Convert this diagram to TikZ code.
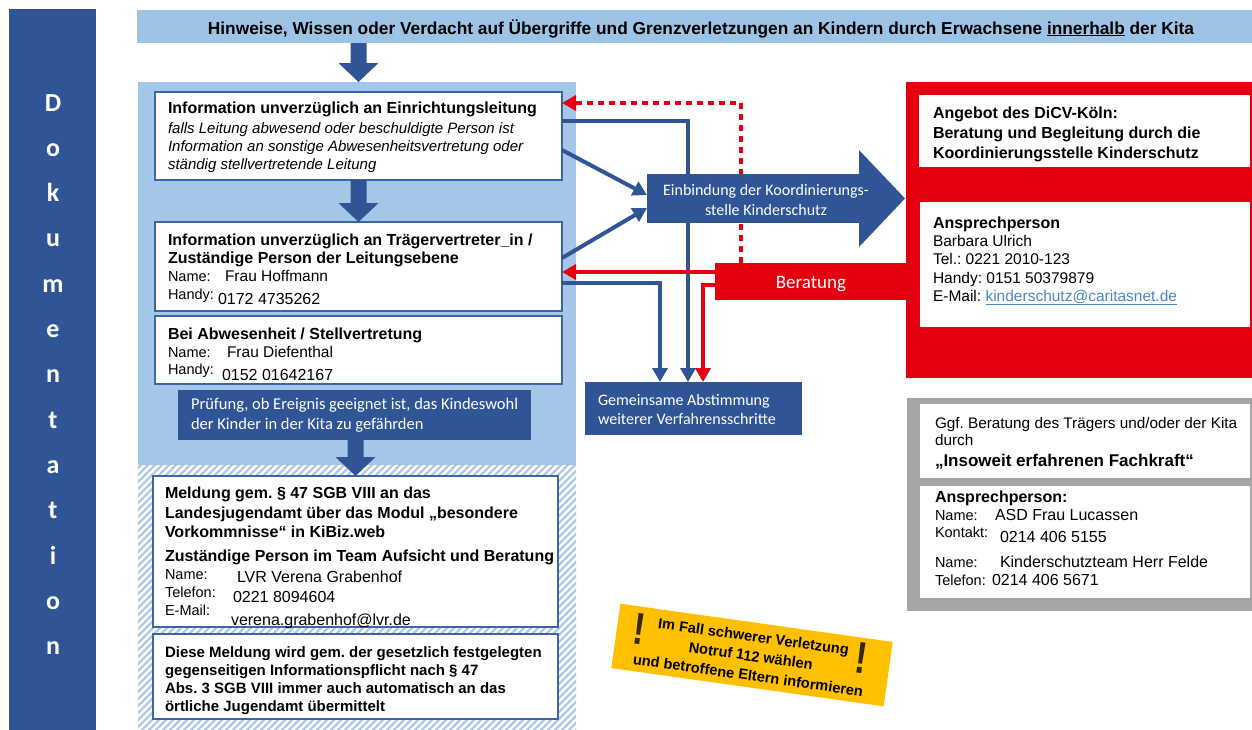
\documentclass[tikz,border=0pt]{standalone}
\usepackage{fontspec}
\setmainfont{Liberation Sans}
\newfontfamily\calfont{Carlito}
\usetikzlibrary{arrows.meta,calc}
\frenchspacing

\definecolor{dkblue}{HTML}{2F5597}
\definecolor{bannerblue}{HTML}{9DC3E6}
\definecolor{panelblue}{HTML}{A3C6E9}
\definecolor{frameblue}{HTML}{3D66A8}
\definecolor{hatchblue}{HTML}{AFC9E8}
\definecolor{kred}{HTML}{E3000F}
\definecolor{kgray}{HTML}{A6A6A6}
\definecolor{kgold}{HTML}{FFC000}
\definecolor{linkblue}{HTML}{4A86C8}

% broad downward block arrow between two anchors (x taken from the second)
\newcommand\downblock[2]{%
  \path[fill=dkblue] let \p1=(#1), \p2=(#2) in
    (\x2-8pt,\y1) -- (\x2+8pt,\y1) -- (\x2+8pt,\y2+19pt) -- (\x2+20pt,\y2+19pt)
    -- (\x2,\y2) -- (\x2-20pt,\y2+19pt) -- (\x2-8pt,\y2+19pt) -- cycle;}

\begin{document}
\begin{tikzpicture}[x=1pt,y=-1pt,
  every node/.style={inner sep=0pt, outer sep=0pt},
  rect/.style={anchor=north west},
  wbox/.style={rect, draw=frameblue, line width=1.5pt, fill=white},
  txt/.style={anchor=north west, align=left, font=\fontsize{15.5}{18}\selectfont},
  wtxt/.style={anchor=north west, align=left, text=white, font=\calfont\fontsize{16}{19.5}\selectfont},
  dokul/.style={anchor=base, text=white, font=\calfont\bfseries\fontsize{26}{28}\selectfont},
  bconn/.style={draw=dkblue, line width=4pt, -{Triangle[length=14pt,width=15pt]}},
  rconn/.style={draw=kred, line width=4pt, -{Triangle[length=14pt,width=15pt]}},
  rdots/.style={rconn, dash pattern=on 6pt off 5pt},
  excl/.style={text=black!80!kgold, yscale=1.28, font=\bfseries\fontsize{35}{36}\selectfont},
]
\useasboundingbox (0,0) rectangle (1252,729);

% Dokumentation bar
\node[rect, fill=dkblue, minimum width=87pt, minimum height=721pt] (doku) at (9,9) {};
\foreach \ch [count=\i from 0] in {D,o,k,u,m,e,n,t,a,t,i,o,n}
  \node[dokul] (dl\i) at (53,{111+45.3*\i}) {\ch};

% headline
\node[rect, fill=bannerblue, minimum width=1115pt, minimum height=33pt] (banner) at (137,10) {};
\node[anchor=base, font=\bfseries\fontsize{17.3}{19}\selectfont] (bannert) at (701,34)
  {Hinweise, Wissen oder Verdacht auf Übergriffe und Grenzverletzungen an Kindern durch Erwachsene \underline{innerhalb} der Kita};

% left column background
\node[rect, fill=panelblue, minimum width=438pt, minimum height=383pt] (panel) at (138,82) {};
\node[rect, fill=white, minimum width=438pt, minimum height=264pt] (hatch) at (138,465) {};
\begin{scope}
  \clip (hatch.north west) rectangle (hatch.south east);
  \foreach \k in {0,...,106}
    \draw[hatchblue, line width=2.3pt] ({-150+7*\k},735) -- ++(290,-290);
\end{scope}

% left column boxes
\node[wbox, minimum width=407pt, minimum height=88pt] (b1) at (155,92) {};
\node[txt] (b1t) at (168,102) {%
  {\bfseries\fontsize{16}{18}\selectfont Information unverzüglich an Einrichtungsleitung}\\[2pt]
  {\itshape\fontsize{15}{18}\selectfont falls Leitung abwesend oder beschuldigte Person ist}\\
  {\itshape\fontsize{15}{18}\selectfont Information an sonstige Abwesenheitsvertretung oder}\\
  {\itshape\fontsize{15}{18}\selectfont ständig stellvertretende Leitung}};

\node[wbox, minimum width=407pt, minimum height=89pt] (b2) at (155,222) {};
\node[txt] (b2t) at (168,234) {%
  {\bfseries\fontsize{16}{18}\selectfont Information unverzüglich an Trägervertreter\_in /}\\
  {\bfseries\fontsize{16}{18}\selectfont Zuständige Person der Leitungsebene}\\
  \makebox[57pt][l]{\fontsize{14.5}{17}\selectfont Name:}Frau Hoffmann\\[5pt]
  \makebox[50pt][l]{\smash{\raisebox{5.5pt}{\fontsize{14.5}{17}\selectfont Handy:}}}{\fontsize{16}{18}\selectfont 0172 4735262}};

\node[wbox, minimum width=407pt, minimum height=68pt] (b3) at (155,316) {};
\node[txt] (b3t) at (168,328) {%
  {\bfseries\fontsize{16}{18}\selectfont Bei Abwesenheit / Stellvertretung}\\
  \makebox[59pt][l]{\fontsize{14.5}{17}\selectfont Name:}Frau Diefenthal\\[5pt]
  \makebox[54pt][l]{\smash{\raisebox{6pt}{\fontsize{14.5}{17}\selectfont Handy:}}}{\fontsize{16}{18}\selectfont 0152 01642167}};

\node[rect, fill=dkblue, minimum width=353pt, minimum height=50pt] (pr) at (178,390) {};
\node[wtxt, font=\calfont\fontsize{16.5}{20}\selectfont] (prt) at (191,398)
  {Prüfung, ob Ereignis geeignet ist, das Kindeswohl\\der Kinder in der Kita zu gefährden};

\node[wbox, minimum width=405pt, minimum height=151pt] (b4) at (153,476) {};
\node[txt, font=\bfseries\fontsize{16}{19.5}\selectfont] (b4t) at (165,487) {%
  Meldung gem. § 47 SGB VIII an das\\
  Landesjugendamt über das Modul „besondere\\
  Vorkommnisse“ in KiBiz.web\\[4.5pt]
  Zuständige Person im Team Aufsicht und Beratung};
\node[txt, font=\fontsize{14.5}{18}\selectfont] (b4l) at (165,570) {Name:\\Telefon:\\E-Mail:};
\node[txt, font=\fontsize{16}{20}\selectfont] (b4v) at (231,571.3) {%
  \hspace*{6pt}LVR Verena Grabenhof\\
  \hspace*{2pt}0221 8094604\\[3pt]
  verena.grabenhof@lvr.de};

\node[wbox, minimum width=405pt, minimum height=85pt] (b5) at (153,634) {};
\node[txt, font=\bfseries\fontsize{15}{18}\selectfont] (b5t) at (165,646.5) {%
  Diese Meldung wird gem. der gesetzlich festgelegten\\
  gegenseitigen Informationspflicht nach § 47\\
  Abs. 3 SGB VIII immer auch automatisch an das\\
  örtliche Jugendamt übermittelt};

% red column
\node[rect, fill=kred, minimum width=346pt, minimum height=296pt] (rp) at (906,82) {};
\node[rect, fill=white, minimum width=331pt, minimum height=72pt] (r1) at (919,95) {};
\node[txt, font=\bfseries\fontsize{16}{20}\selectfont] (r1t) at (933,106.8) {%
  Angebot des DiCV-Köln:\\
  Beratung und Begleitung durch die\\
  Koordinierungsstelle Kinderschutz};
\node[rect, fill=white, minimum width=330pt, minimum height=125pt] (r2) at (920,202) {};
\node[txt] (r2t) at (933,216.5) {%
  {\bfseries\fontsize{16}{18}\selectfont Ansprechperson}\\
  Barbara Ulrich\\
  Tel.: 0221 2010-123\\[1pt]
  Handy: 0151 50379879\\
  E-Mail: {\color{linkblue}\underline{kinderschutz@caritasnet.de}}};
\node[rect, fill=kred, minimum width=192pt, minimum height=37pt] (ber) at (715,263) {};
\node[anchor=base, text=white, font=\calfont\fontsize{19}{22}\selectfont] (bert) at (811,288.5) {Beratung};

% grey column
\node[rect, fill=kgray, minimum width=345pt, minimum height=213pt] (gp) at (907,398) {};
\node[rect, fill=white, minimum width=330pt, minimum height=74pt] (g1) at (920,404) {};
\node[txt, font=\fontsize{15.3}{17}\selectfont] (g1t) at (935,417.5) {%
  Ggf. Beratung des Trägers und/oder der Kita\\
  durch\\[4pt]
  {\bfseries\fontsize{17}{19}\selectfont „Insoweit erfahrenen Fachkraft“}};
\node[rect, fill=white, minimum width=330pt, minimum height=112pt] (g2) at (920,486) {};
\node[txt, font=\fontsize{16}{17.5}\selectfont] (g2t) at (935,491.3) {%
  {\bfseries Ansprechperson:}\\
  \makebox[60pt][l]{\fontsize{14.5}{17}\selectfont Name:}ASD Frau Lucassen\\[4.5pt]
  \makebox[65pt][l]{\smash{\raisebox{5pt}{\fontsize{14.5}{17}\selectfont Kontakt:}}}0214 406 5155\\[7.5pt]
  \makebox[65pt][l]{\fontsize{14.5}{17}\selectfont Name:}Kinderschutzteam Herr Felde\\[0.5pt]
  \makebox[57pt][l]{\fontsize{14.5}{17}\selectfont Telefon:}0214 406 5671};

% joint coordination
\node[rect, fill=dkblue, minimum width=217pt, minimum height=53pt] (ga) at (585,382) {};
\node[wtxt] (gat) at (598,394) {Gemeinsame Abstimmung\\weiterer Verfahrensschritte};

% block arrows in the left column
\downblock{banner.south}{b1.north |- panel.north}
\downblock{b1.south}{b2.north}
\downblock{pr.south}{b4.north}

% connectors running behind the coordination arrow
\draw[bconn] ([yshift=15pt]b1.east) -| ([xshift=103pt]ga.north west);
\draw[rdots] ([xshift=26pt]ber.north west) |- ([yshift=33pt]b1.east);

% coordination arrow
\node[rect, fill=dkblue, minimum width=213pt, minimum height=49pt] (ein) at (647,174) {};
\path[fill=dkblue] let \p1=(ein.north east), \p2=(ein.south east) in
  (\x1-1pt,\y1+24pt) -- (\x1+45pt,{(\y1+\y2)/2}) -- (\x2-1pt,\y2-24pt) -- cycle;
\node[anchor=center, align=center, text=white, font=\calfont\fontsize{16}{20}\selectfont] (eint) at (766,200)
  {Einbindung der Koordinierungs-\\stelle Kinderschutz};

% remaining connectors
\draw[bconn] ([yshift=-14pt]b1.east) -- ([yshift=3.5pt]ein.west);
\draw[bconn] ([yshift=8.5pt]b2.east) -- ([yshift=-9.5pt]ein.west);
\draw[bconn] ([yshift=-16.5pt]b2.east) -| ([xshift=75pt]ga.north west);
\draw[rconn] ([yshift=9.5pt]ber.west) -- ([yshift=-5.5pt]b2.east);
\draw[rconn] ([yshift=-3.5pt]ber.west) -| ([xshift=118pt]ga.north west);

% emergency note
\begin{scope}[shift={(752,655)}, rotate=-8, transform shape]
  \node[fill=kgold, minimum width=275pt, minimum height=65pt] (stk) at (0,0) {};
  \node[align=center, font=\bfseries\fontsize{14.6}{19.5}\selectfont] (stkt) at (-1,1)
    {Im Fall schwerer Verletzung\\Notruf 112 wählen\\und betroffene Eltern informieren};
  \node[excl] (ex1) at (-115,-10) {!};
  \node[excl] (ex2) at (109,-12) {!};
\end{scope}
\end{tikzpicture}
\end{document}
